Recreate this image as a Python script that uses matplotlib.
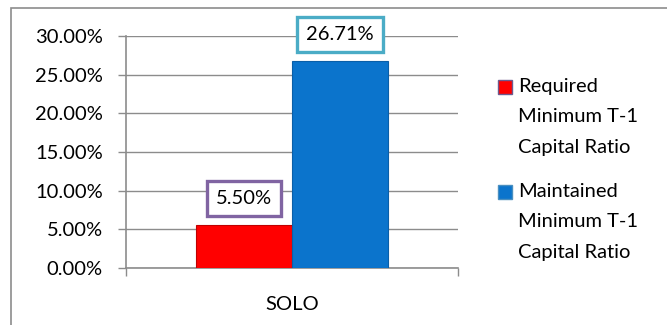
import matplotlib.pyplot as plt
from matplotlib.patches import Rectangle
from matplotlib.ticker import FuncFormatter

# data
category = "SOLO"
series = ["Required\nMinimum T-1\nCapital Ratio", "Maintained\nMinimum T-1\nCapital Ratio"]
values = [0.055, 0.2671]
colors = ["#FF0000", "#0B74CC"]
edges = ["#C00000", "#0A5FA8"]
box_colors = ["#8064A2", "#4BACC6"]
yticks = [0, 0.05, 0.10, 0.15, 0.20, 0.25, 0.30]

plt.rcParams['font.family'] = ['Lato', 'DejaVu Sans']
fs = 14.5
fig = plt.figure(figsize=(6.67, 3.25), dpi=100)
fig.patch.set_facecolor("white")

# outer chart frame (left/top only visible)
fig.add_artist(Rectangle((11 / 667, -0.1), 1.2, (325 - 8) / 325 + 0.1,
                         transform=fig.transFigure, fill=False,
                         edgecolor="#8C8C8C", lw=1.2))

ax = fig.add_axes([126 / 667, 57 / 325, 332 / 667, 232 / 325])
w = 0.29
offsets = [-w / 2, w / 2]
for v, off, c, e, bc in zip(values, offsets, colors, edges, box_colors):
    ax.bar(off, v, width=w, color=c, edgecolor=e, lw=0.8, zorder=3)
    ax.annotate(f"{v * 100:.2f}%", (off, v), xytext=(0, 19.5), textcoords="offset points",
                ha="center", va="center", fontsize=fs, zorder=5,
                bbox=dict(boxstyle="square,pad=0.45", fc="white", ec=bc, lw=2.4))

ax.set_xlim(-0.5, 0.5)
ax.set_ylim(0, 0.30)
ax.set_yticks(yticks)
ax.yaxis.set_major_formatter(FuncFormatter(lambda y, _: f"{y * 100:.2f}%"))
ax.grid(axis="y", color="#8C8C8C", lw=1.0, zorder=0)
ax.set_xticks([-0.5, 0.5])
ax.set_xticklabels(["", ""])
ax.set_xticks([0], minor=True)
ax.set_xticklabels([category], minor=True)
ax.tick_params(axis="x", which="minor", length=0, pad=20, labelsize=fs)
ax.tick_params(axis="x", which="major", length=5.5, color="#8C8C8C", width=1)
ax.tick_params(axis="y", length=5.8, pad=11, color="#8C8C8C", width=1, labelsize=fs)
for s in ["top", "right"]:
    ax.spines[s].set_visible(False)
for s in ["left", "bottom"]:
    ax.spines[s].set_color("#8C8C8C")
    ax.spines[s].set_linewidth(1.2)

# legend drawn by hand, marker aligned to first line
leg_y = [87, 192]
for lab, c, y in zip(series, colors, leg_y):
    fig.add_artist(Rectangle((498 / 667, (325 - y - 7) / 325), 14 / 667, 14 / 325,
                             transform=fig.transFigure, fc=c,
                             ec="#6D5A8E" if c == "#FF0000" else "#4A8FC0", lw=1))
    fig.text(518 / 667, (325 - y + 9) / 325, lab, ha="left", va="top",
             fontsize=fs, linespacing=1.95)

fig.savefig("out.png", dpi=100)
